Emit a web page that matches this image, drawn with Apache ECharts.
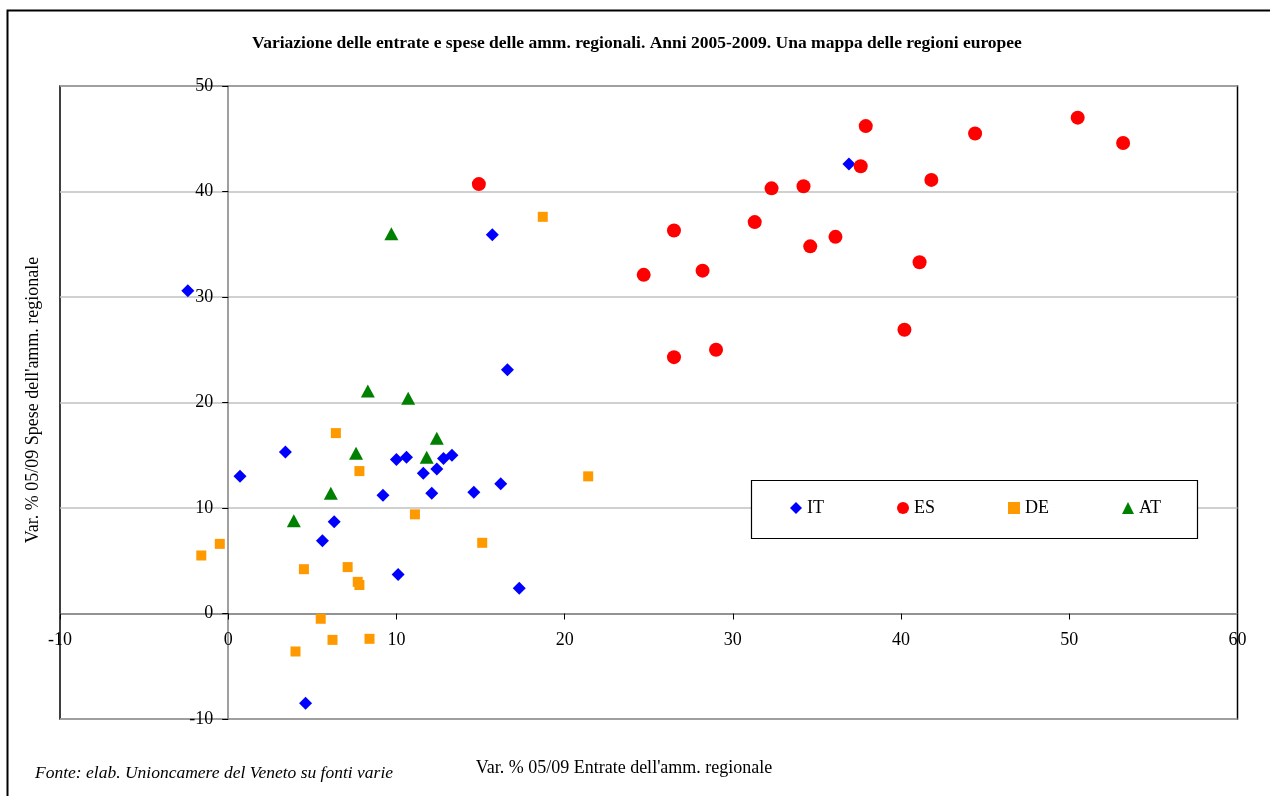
<!DOCTYPE html>
<html>
<head>
<meta charset="utf-8">
<title>Variazione delle entrate e spese delle amm. regionali</title>
<script src="https://cdn.jsdelivr.net/npm/echarts@6/dist/echarts.min.js"></script>
<style>
  html, body { margin: 0; padding: 0; background: #fff; }
  #chart { width: 1270px; height: 796px; }
</style>
</head>
<body>
<div id="chart"></div>
<script>
// Variation 2005-2009 of regional revenues (x) and expenditures (y), in %
const IT = [
  [-2.4, 30.6], [0.7, 13.0], [3.4, 15.3], [10.0, 14.6], [10.6, 14.8],
  [11.6, 13.3], [12.4, 13.7], [12.8, 14.7], [13.3, 15.0], [9.2, 11.2],
  [12.1, 11.4], [14.6, 11.5], [6.3, 8.7], [5.6, 6.9], [10.1, 3.7],
  [4.6, -8.5], [15.7, 35.9], [16.6, 23.1], [16.2, 12.3], [17.3, 2.4],
  [36.9, 42.6]
];
const ES = [
  [14.9, 40.7], [24.7, 32.1], [26.5, 36.3], [26.5, 24.3], [28.2, 32.5],
  [29.0, 25.0], [31.3, 37.1], [32.3, 40.3], [34.2, 40.5], [34.6, 34.8],
  [36.1, 35.7], [37.6, 42.4], [37.9, 46.2], [40.2, 26.9], [41.1, 33.3],
  [41.8, 41.1], [44.4, 45.5], [50.5, 47.0], [53.2, 44.6]
];
const DE = [
  [-1.6, 5.5], [-0.5, 6.6], [6.4, 17.1], [7.8, 13.5], [11.1, 9.4],
  [15.1, 6.7], [4.5, 4.2], [7.1, 4.4], [7.7, 3.0], [7.8, 2.7],
  [5.5, -0.5], [6.2, -2.5], [8.4, -2.4], [4.0, -3.6], [18.7, 37.6],
  [21.4, 13.0]
];
const AT = [
  [8.3, 21.1], [10.7, 20.4], [12.4, 16.6], [11.8, 14.8], [7.6, 15.2],
  [6.1, 11.4], [3.9, 8.8], [9.7, 36.0]
];

const X_RANGE = [-10, 60];
const Y_RANGE = [-10, 50];

const TITLE = "Variazione delle entrate e spese delle amm. regionali. Anni 2005-2009. Una mappa delle regioni europee";
const X_NAME = "Var. % 05/09 Entrate dell'amm. regionale";
const Y_NAME = "Var. % 05/09 Spese dell'amm. regionale";
const SOURCE = "Fonte: elab. Unioncamere del Veneto su fonti varie";

const SERIF = '"Liberation Serif", "Times New Roman", serif';

// plot box in pixels
const GRID = { left: 60, top: 86, right: 32.5, bottom: 77 };
const W = 1270, H = 796;
const plotW = W - GRID.left - GRID.right;
const plotH = H - GRID.top - GRID.bottom;

// the axes cross at the origin: shift each axis from the box edge to the zero of the other
const xAxisShift = -plotH * (0 - Y_RANGE[0]) / (Y_RANGE[1] - Y_RANGE[0]);
const yAxisShift = -plotW * (0 - X_RANGE[0]) / (X_RANGE[1] - X_RANGE[0]);

const chart = echarts.init(document.getElementById('chart'), null, { renderer: 'canvas' });

const axisCommon = {
  type: 'value',
  interval: 10,
  axisLine: { show: true, onZero: false, lineStyle: { color: '#7f7f7f', width: 1.5 } },
  axisTick: { show: true, inside: false, length: 6, lineStyle: { color: '#000', width: 1 } },
  splitLine: { show: false }
};
const labelStyle = { color: '#000', fontFamily: SERIF, fontSize: 18 };

function scatter(name, data, symbol, size, color) {
  return {
    name: name,
    type: 'scatter',
    data: data,
    symbol: symbol,
    symbolSize: size,
    itemStyle: { color: color, opacity: 1 },
    emphasis: { disabled: true }
  };
}

function legendItem(name, left) {
  return {
    left: left, top: 499, padding: 0,
    itemWidth: 12, itemHeight: 12,
    selectedMode: false,
    textStyle: { color: '#000', fontFamily: SERIF, fontSize: 18 },
    data: [name]
  };
}

chart.setOption({
  animation: false,
  backgroundColor: '#fff',
  grid: Object.assign({
    show: true, borderColor: '#000', borderWidth: 1.5, backgroundColor: 'transparent',
    containLabel: false, outerBoundsMode: 'none'
  }, GRID),
  xAxis: Object.assign({}, axisCommon, {
    position: 'bottom',
    offset: xAxisShift,
    min: X_RANGE[0], max: X_RANGE[1],
    axisLabel: Object.assign({}, labelStyle, { margin: 18 })
  }),
  yAxis: Object.assign({}, axisCommon, {
    position: 'left',
    offset: yAxisShift,
    min: Y_RANGE[0], max: Y_RANGE[1],
    axisLabel: Object.assign({}, labelStyle, { margin: 15 }),
    splitLine: { show: true, lineStyle: { color: '#c0c0c0', width: 1.5 } }
  }),
  legend: [
    legendItem('IT', 790),
    legendItem('ES', 897),
    legendItem('DE', 1008),
    legendItem('AT', 1122)
  ],
  graphic: {
    elements: [
      {
        type: 'rect', z: 3, silent: true,
        shape: { x: 7.5, y: 10.5, width: 1300, height: 820 },
        style: { fill: 'none', stroke: '#000', lineWidth: 2 }
      },
      {
        type: 'rect', z: 3, silent: true,
        shape: { x: 751.5, y: 480.5, width: 446, height: 58 },
        style: { fill: '#fff', stroke: '#000', lineWidth: 1.2 }
      },
      {
        type: 'text', z: 3, silent: true,
        style: { x: 637, y: 43, text: TITLE, textAlign: 'center', textVerticalAlign: 'middle',
                 fill: '#000', font: 'bold 17.5px ' + SERIF }
      },
      {
        type: 'text', z: 3, silent: true,
        style: { x: 624, y: 768, text: X_NAME, textAlign: 'center', textVerticalAlign: 'middle',
                 fill: '#000', font: '18px ' + SERIF }
      },
      {
        type: 'text', z: 3, silent: true,
        x: 33, y: 400, rotation: Math.PI / 2,
        style: { x: 0, y: 0, text: Y_NAME, textAlign: 'center', textVerticalAlign: 'middle',
                 fill: '#000', font: '18px ' + SERIF }
      },
      {
        type: 'text', z: 3, silent: true,
        style: { x: 35, y: 773, text: SOURCE, textAlign: 'left', textVerticalAlign: 'middle',
                 fill: '#000', font: 'italic 17.5px ' + SERIF }
      }
    ]
  },
  series: [
    scatter('IT', IT, 'diamond', 13, '#0000ff'),
    scatter('ES', ES, 'circle', 14, '#ff0000'),
    scatter('DE', DE, 'rect', 10, '#ff9900'),
    scatter('AT', AT, 'triangle', [14, 13], '#008000')
  ]
});
</script>
</body>
</html>
